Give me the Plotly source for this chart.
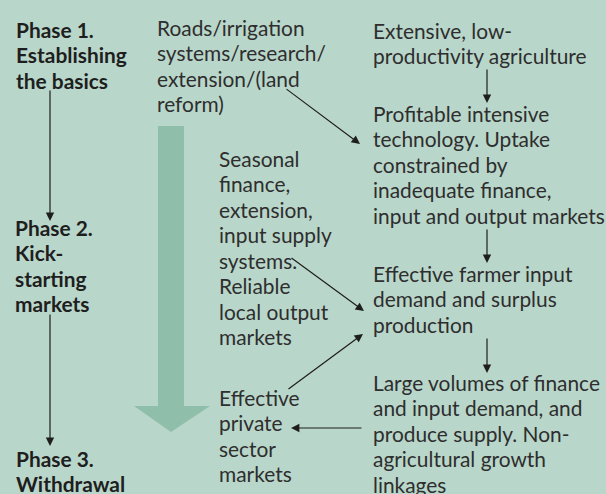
import plotly.graph_objects as go

W, H = 606, 494
BG = "#b9d6ca"
BIG = "#8fbfab"
INK = "#2e2e2e"
FONT = "Lato"
FS = 20.9
LH = 25.5

# ---- text content ----
phase1 = ["Phase 1.", "Establishing", "the basics"]
phase2 = ["Phase 2.", "Kick-", "starting", "markets"]
phase3 = ["Phase 3.", "Withdrawal"]
mid_top = ["Roads/irrigation", "systems/research/", "extension/(land", "reform)"]
mid_seasonal = ["Seasonal", "finance,", "extension,", "input supply", "systems.",
                "Reliable", "local output", "markets"]
mid_private = ["Effective", "private", "sector", "markets"]
right_1 = ["Extensive, low-", "productivity agriculture"]
right_2 = ["Profitable intensive", "technology. Uptake", "constrained by",
           "inadequate finance,", "input and output markets"]
right_3 = ["Effective farmer input", "demand and surplus", "production"]
right_4 = ["Large volumes of finance", "and input demand, and",
           "produce supply. Non-", "agricultural growth", "linkages"]

# ---- layout of blocks (x, first-line y, bold) ----
blocks = [
    (phase1, 14, 29, True), (phase2, 13, 227, True), (phase3, 14, 458, True),
    (mid_top, 155, 27, False), (mid_seasonal, 217, 158, False),
    (mid_private, 217, 397, False),
    (right_1, 371, 30, False), (right_2, 371, 113, False),
    (right_3, 371, 273, False), (right_4, 371, 382, False),
]

# ---- connector arrows (from -> to) ----
arrows = [
    ((50, 89), (50, 221)), ((50, 313), (50, 446)),
    ((487, 68), (487, 103)), ((487, 228), (487, 263)), ((487, 337), (487, 373)),
    ((285, 88), (360, 144)), ((290, 257), (364, 311)),
    ((287, 390), (363, 334)), ((363, 428), (291, 428)),
]

fig = go.Figure()
fig.add_trace(go.Scatter(x=[0], y=[0], mode="markers", marker=dict(opacity=0),
                         hoverinfo="skip", showlegend=False))

# big downward arrow
fig.add_shape(type="path",
              path="M158,126 L184,126 L184,406 L210,406 L171,432 L134,406 L158,406 Z",
              fillcolor=BIG, line=dict(width=0), layer="below")

anns = []
for lines, x, y0, bold in blocks:
    for i, t in enumerate(lines):
        anns.append(dict(x=x, y=y0 + i * LH, xref="x", yref="y",
                         text=f"<b>{t}</b>" if bold else t,
                         showarrow=False, xanchor="left", yanchor="middle",
                         font=dict(family=FONT, size=FS,
                                   color="#1e1e1e" if bold else INK)))
for (x0, y0), (x1, y1) in arrows:
    anns.append(dict(x=x1, y=y1, ax=x0, ay=y0, xref="x", yref="y",
                     axref="x", ayref="y", text="", showarrow=True,
                     arrowhead=2, arrowsize=1.4, arrowwidth=1.2,
                     arrowcolor="#1e1e1e", standoff=0, startstandoff=0))
# cut-off title fragment at the very top
anns.append(dict(x=8, y=-5, xref="x", yref="y", text="<b>Figure</b>",
                 showarrow=False, xanchor="left", yanchor="middle",
                 font=dict(family=FONT, size=FS, color="#1e1e1e")))

fig.update_layout(
    width=W, height=H, margin=dict(l=0, r=0, t=0, b=0),
    paper_bgcolor=BG, plot_bgcolor=BG, showlegend=False,
    xaxis=dict(range=[0, W], visible=False, fixedrange=True),
    yaxis=dict(range=[H, 0], visible=False, fixedrange=True),
    annotations=anns,
)
fig.write_html(
    "out.html",
    config={"displayModeBar": False},
    post_script="document.body.style.margin='0';"
                "document.body.style.background='" + BG + "';",
)
